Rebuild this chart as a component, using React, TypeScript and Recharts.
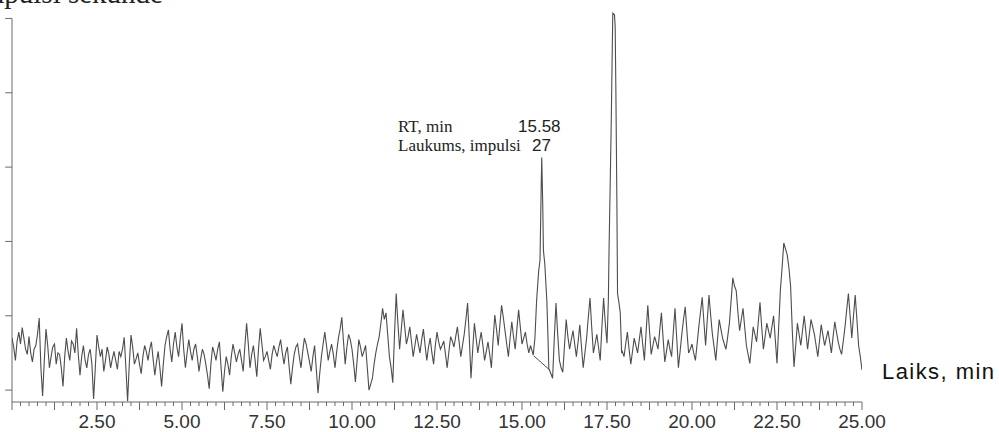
import { LineChart, Line, XAxis, YAxis, ReferenceLine } from "recharts";

// detector signal read every 0.1 min, 0.0 … 25.0
const SCAN_STEP = 0.1;
const BASELINE = [
  70, 40, 78, 84, 55, 72, 38, 60, 97, -8,
  82, 30, 58, 35, 48, 5, 70, 40, 62, 83,
  20, 60, 30, 55, -12, 74, 45, 25, 58, 30,
  52, 28, 45, 71, -15, 74, 35, 50, 22, 60,
  40, 65, 20, 52, 5, 60, 81, 38, 78, 45,
  90, 30, 68, 40, 62, 25, 55, 35, 2, 58,
  40, 65, -2, 45, 20, 62, 38, 55, 25, 90,
  30, 60, 18, 83, 40, 52, 28, 60, 45, 68,
  35, 58, 8, 48, 62, 30, 70, 50, 25, 60,
  -4, 45, 78, 40, 62, 30, 70, 98, 35, 75,
  55, 11, 68, 45, 60, 0, 16, 50, 72, 110,
  104, 45, 10, 130, 55, 108, 62, 85, 45, 75,
  50, 82, 40, 70, 35, 78, 55, 66, 30, 72,
  58, 85, 45, 75, 117, 16, 90, 50, 78, 40,
  65, 30, 101, 60, 114, 80, 45, 92, 55, 108,
  62, 78, 50, 52, 120, 200, 300, 110, 28, 16,
  117, 40, 24, 95, 55, 80, 45, 88, 30, 70,
  124, 50, 75, 40, 124, 63, 300, 500, 200, 60,
  45, 78, 35, 70, 50, 85, 40, 114, 48, 72,
  55, 104, 38, 68, 45, 110, 30, 75, 112, 50,
  62, 40, 85, 125, 60, 128, 75, 40, 95, 70,
  55, 90, 151, 134, 80, 110, 60, 36, 85, 65,
  118, 55, 90, 70, 100, 36, 135, 198, 182, 140,
  31, 90, 60, 100, 55, 95, 75, 45, 88, 60,
  80, 50, 92, 65, 48, 85, 130, 70, 128, 60,
  27,
];

// readings in between, at 0.05, 0.15 … 24.95 min
const BASELINE_MID = [
  58, 66, 62, 70, 48, 50, 55, 75, 30, 40,
  60, 45, 62, 50, 30, 45, 52, 66, 50, 48,
  45, 40, 48, 35, 30, 58, 55, 40, 48, 42,
  40, 52, 55, 30, 35, 58, 42, 35, 45, 52,
  55, 42, 38, 30, 35, 72, 55, 62, 58, 70,
  55, 50, 52, 55, 45, 42, 48, 20, 35, 50,
  55, 30, 25, 35, 45, 50, 48, 40, 60, 62,
  48, 40, 55, 62, 45, 40, 48, 52, 58, 50,
  50, 32, 30, 58, 45, 52, 62, 38, 45, 28,
  22, 62, 60, 52, 48, 52, 82, 65, 58, 68,
  35, 40, 58, 52, 30, 8, 35, 62, 90, 95,
  75, 30, 75, 90, 82, 85, 72, 65, 60, 62,
  68, 60, 58, 50, 60, 65, 60, 48, 52, 66,
  72, 65, 60, 95, 70, 55, 70, 65, 60, 52,
  48, 68, 82, 88, 98, 62, 70, 72, 82, 85,
  70, 62, 60, 0, 0, 0, 0, 0, 22, 70,
  75, 30, 60, 72, 68, 62, 65, 58, 50, 98,
  85, 62, 58, 85, 90, 0, 0, 0, 0, 52,
  62, 55, 52, 60, 68, 62, 78, 80, 60, 64,
  80, 70, 52, 55, 78, 70, 52, 95, 80, 55,
  50, 62, 105, 92, 95, 100, 58, 68, 82, 62,
  72, 120, 140, 105, 95, 85, 48, 60, 75, 92,
  85, 72, 80, 85, 68, 85, 165, 190, 165, 80,
  60, 75, 80, 78, 75, 85, 60, 66, 74, 70,
  65, 72, 78, 55, 66, 108, 100, 100, 95, 45,
];

// the two peaks, read more finely
const PEAK_A_TIME = [15.33, 15.38, 15.43, 15.49, 15.53, 15.56, 15.58, 15.61, 15.63, 15.67, 15.73, 15.76, 15.79];
const PEAK_A_SIGNAL = [47, 70, 121, 160, 175, 260, 313, 250, 188, 170, 121, 77, 28];
const PEAK_B_TIME = [17.54, 17.56, 17.62, 17.67, 17.72, 17.74, 17.76, 17.79, 17.81, 17.85, 17.89, 17.93];
const PEAK_B_SIGNAL = [121, 188, 346, 507, 505, 490, 408, 256, 130, 118, 104, 50];

// integration baseline drawn under the 15.58 peak
const INTEGRATION_START = { x: 15.35, y: 46 };
const INTEGRATION_END = { x: 15.79, y: 28 };

const X_LABELS = [2.5, 5, 7.5, 10, 12.5, 15, 17.5, 20, 22.5, 25];
const Y_TICKS = [0, 100, 200, 300, 400, 500];
const Y_TICK_REACH = -0.2; // how far left of the axis the y ticks stick out, in minutes

const X_TICKS: number[] = [];
for (let k = 0; k <= 100; k++) X_TICKS.push(k * 0.25);

const peaks = [
  { time: PEAK_A_TIME, signal: PEAK_A_SIGNAL },
  { time: PEAK_B_TIME, signal: PEAK_B_SIGNAL },
];

type Point = { t: number; v: number };
const points: Point[] = [];
const addReading = (t: number, v: number) => {
  const covered = peaks.some((p) => t > p.time[0] && t < p.time[p.time.length - 1]);
  if (!covered) points.push({ t, v });
};
BASELINE.forEach((v, i) => addReading(Math.round(i * SCAN_STEP * 100) / 100, v));
BASELINE_MID.forEach((v, i) => addReading(Math.round((i + 0.5) * SCAN_STEP * 100) / 100, v));
peaks.forEach((p) => p.time.forEach((t, i) => points.push({ t, v: p.signal[i] })));
points.sort((a, b) => a.t - b.t);

const INK = "#4d4d4d";
const AXIS = "#6a6a6a";

function TimeTick(props: any) {
  const { x, y, payload } = props;
  const t: number = payload.value;
  const major = Math.abs(t / 1.25 - Math.round(t / 1.25)) < 1e-6;
  return (
    <g>
      <line x1={x} x2={x} y1={y} y2={y + (major ? 8 : 4)} stroke={AXIS} strokeWidth={1} />
      {X_LABELS.includes(t) && (
        <text
          x={x}
          y={y + 26}
          textAnchor="middle"
          fontFamily="'Liberation Sans', Arial, sans-serif"
          fontSize={19}
          fill="#333"
        >
          {t.toFixed(2)}
        </text>
      )}
    </g>
  );
}

export default function App() {
  return (
    <div style={{ position: "absolute", left: 0, top: 0, width: 999, height: 432, background: "#fff" }}>
      <LineChart
        width={999}
        height={432}
        data={points}
        margin={{ top: 11, right: 137, bottom: 0, left: 12 }}
      >
        <XAxis
          dataKey="t"
          type="number"
          domain={[0, 25]}
          allowDataOverflow
          ticks={X_TICKS}
          interval={0}
          height={30}
          tickSize={0}
          tickMargin={0}
          tickLine={false}
          axisLine={{ stroke: AXIS, strokeWidth: 1 }}
          tick={<TimeTick />}
        />
        <YAxis
          type="number"
          domain={[-16, 510]}
          allowDataOverflow
          ticks={Y_TICKS}
          width={0}
          axisLine={false}
          tickLine={false}
          tick={false}
        />
        <ReferenceLine
          segment={[{ x: 0, y: -16 }, { x: 0, y: 500 }]}
          stroke={AXIS}
          strokeWidth={1}
          ifOverflow="visible"
        />
        {Y_TICKS.map((v) => (
          <ReferenceLine
            key={v}
            segment={[{ x: Y_TICK_REACH, y: v }, { x: 0, y: v }]}
            stroke={AXIS}
            strokeWidth={1}
            ifOverflow="visible"
          />
        ))}
        <ReferenceLine
          segment={[INTEGRATION_START, INTEGRATION_END]}
          stroke={INK}
          strokeWidth={1}
          ifOverflow="visible"
        />
        <Line
          dataKey="v"
          type="linear"
          stroke={INK}
          strokeWidth={1.1}
          dot={false}
          isAnimationActive={false}
        />
      </LineChart>
      <svg
        width={999}
        height={432}
        style={{ position: "absolute", left: 0, top: 0, pointerEvents: "none" }}
      >
        <text x={163} y={3} textAnchor="end" fontFamily="'Liberation Serif', serif" fontSize={29} fill="#222">
          Impulsi sekundē
        </text>
        <g fontFamily="'Liberation Serif', serif" fontSize={17} fill="#222">
          <text x={398} y={131.5}>RT, min</text>
          <text x={398} y={150.5}>Laukums, impulsi</text>
        </g>
        <g fontFamily="'Liberation Sans', Arial, sans-serif" fontSize={17} fill="#222">
          <text x={518} y={131.5}>15.58</text>
          <text x={532} y={151}>27</text>
        </g>
        <text
          x={882}
          y={379}
          fontFamily="'Liberation Sans', Arial, sans-serif"
          fontSize={22}
          fill="#111"
          textLength={112}
          lengthAdjust="spacing"
        >
          Laiks, min
        </text>
      </svg>
    </div>
  );
}
